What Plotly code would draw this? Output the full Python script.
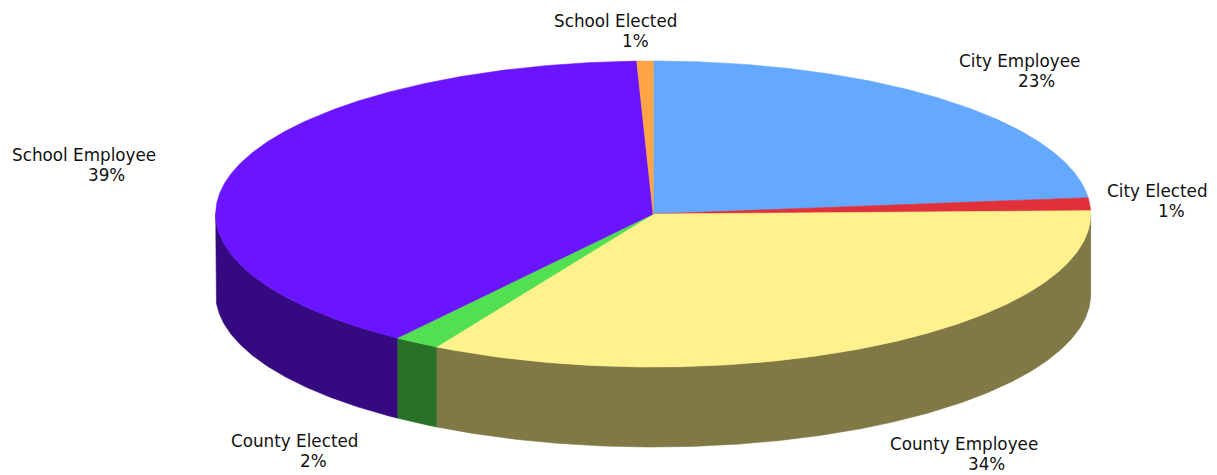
import numpy as np
import plotly.graph_objects as go

# ---- data ----
labels = ["City Employee", "City Elected", "County Employee",
          "County Elected", "School Employee", "School Elected"]
values = [23.3, 1.35, 33.6, 1.7, 39.45, 0.6]
top_colors = ["#64A8FF", "#E0303A", "#FFF28C", "#52E052", "#6A14FF", "#FFA545"]

# ---- label placement (pixel space: name centre x, name baseline y, percent centre x) ----
label_name_x = [1019, 1157, 964, 294, 84, 615]
label_name_base = [67, 197, 450, 447, 161, 27]
label_pct_x = [1036, 1171, 986, 313, 106, 635]

# ---- pie geometry (pixels) ----
W, H = 1217, 475
CX, CY = 653.2, 214.0
RX, RY = 437.5, 153.0
DEPTH = 80.0
FONT = "DejaVu Sans, Verdana, sans-serif"
FS = 16.8


def darken(hex_color, k=0.5):
    h = hex_color.lstrip("#")
    r, g, b = (int(h[i:i + 2], 16) for i in (0, 2, 4))
    return "#%02X%02X%02X" % (round(r * k), round(g * k), round(b * k))


def ellipse(theta_deg, dy=0.0):
    t = np.radians(theta_deg)
    return CX + RX * np.cos(t), CY - RY * np.sin(t) + dy


total = float(sum(values))
sweeps = [v / total * 360.0 for v in values]

# slices run clockwise from 12 o'clock
starts, ends = [], []
a = 90.0
for s in sweeps:
    starts.append(a)
    ends.append(a - s)
    a -= s

fig = go.Figure()

# outer wall: only the front half (angles between -180 and 0) faces the viewer
for st, en, col in zip(starts, ends, top_colors):
    for off in (0.0, -360.0, 360.0):
        hi = min(st + off, 0.0)
        lo = max(en + off, -180.0)
        if hi <= lo:
            continue
        n = max(4, int((hi - lo) * 3))
        th = np.linspace(hi, lo, n)
        xt, yt = ellipse(th)
        xb, yb = ellipse(th[::-1], DEPTH)
        fig.add_trace(go.Scatter(
            x=np.concatenate([xt, xb, xt[:1]]),
            y=np.concatenate([yt, yb, yt[:1]]),
            mode="lines", fill="toself",
            fillcolor=darken(col), line=dict(color=darken(col), width=0.6),
            hoverinfo="skip", showlegend=False))

# top faces
for st, en, col, lab, v in zip(starts, ends, top_colors, labels, values):
    n = max(4, int((st - en) * 3))
    th = np.linspace(st, en, n)
    xs, ys = ellipse(th)
    fig.add_trace(go.Scatter(
        x=np.concatenate([[CX], xs, [CX]]),
        y=np.concatenate([[CY], ys, [CY]]),
        mode="lines", fill="toself",
        fillcolor=col, line=dict(color=col, width=0.6),
        name=lab, hovertemplate="%s: %.2f<extra></extra>" % (lab, v),
        showlegend=False))

# labels: name line and percentage line
for lab, v, nx, nb, px in zip(labels, values, label_name_x, label_name_base, label_pct_x):
    pct = "%d%%" % round(v / total * 100)
    fig.add_annotation(x=nx, y=nb - 0.36 * FS, text=lab, showarrow=False,
                       xanchor="center", yanchor="middle",
                       font=dict(family=FONT, size=FS, color="#111111"))
    fig.add_annotation(x=px, y=nb + 20 - 0.36 * FS, text=pct, showarrow=False,
                       xanchor="center", yanchor="middle",
                       font=dict(family=FONT, size=FS, color="#111111"))

fig.update_layout(
    width=W, height=H,
    margin=dict(l=0, r=0, t=0, b=0),
    paper_bgcolor="white", plot_bgcolor="white",
    xaxis=dict(range=[0, W], visible=False, fixedrange=True),
    yaxis=dict(range=[H, 0], visible=False, fixedrange=True),
)

fig.write_html("out.html")
